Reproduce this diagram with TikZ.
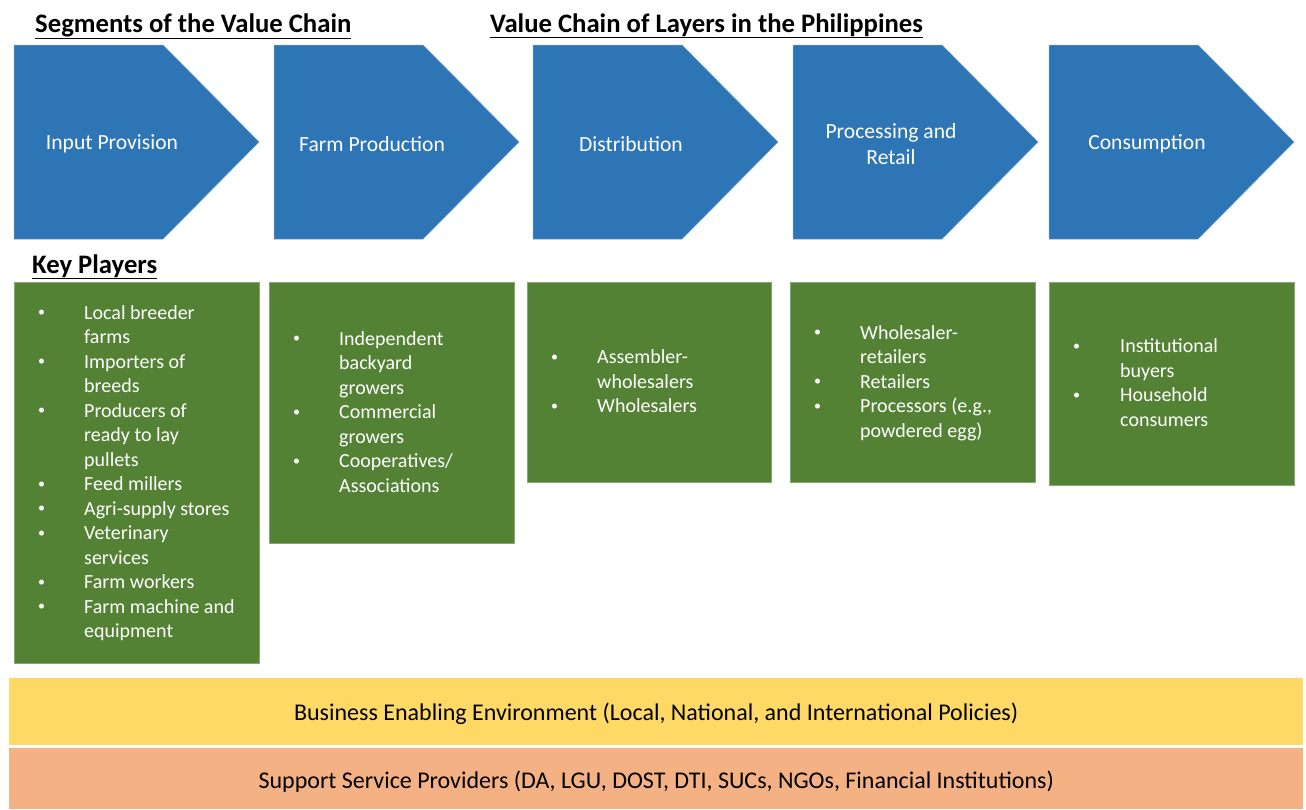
\documentclass[tikz,border=0pt]{standalone}
\usepackage{fontspec}
\setmainfont{Carlito}
\definecolor{chainblue}{HTML}{2E75B6}
\definecolor{playergreen}{HTML}{548235}
\definecolor{envyellow}{HTML}{FFD966}
\definecolor{serviceorange}{HTML}{F4B183}
\newcommand\kpbullet{\raisebox{2.5pt}{\fontsize{14}{14}\selectfont\textbullet}}
\tikzset{
  chev/.style={fill=chainblue, draw=chainblue!70!white, line width=0.5pt},
  chevtext/.style={text=white, align=center, font=\fontsize{21.6}{26}\selectfont},
  playerbox/.style={fill=playergreen, draw=playergreen!70!white, line width=0.5pt,
    anchor=north west, minimum width=245, inner sep=0pt},
  playerlist/.style={text=white, anchor=west, inner sep=0pt, align=left},
  head/.style={font=\fontsize{26.7}{30}\selectfont\bfseries, anchor=base west, inner sep=0pt},
  bar/.style={minimum width=1294, inner sep=0pt, anchor=north west},
  bartext/.style={font=\fontsize{24}{28}\selectfont, inner sep=0pt}
}
\begin{document}
\begin{tikzpicture}[x=1pt, y=-1pt, font=\fontsize{20}{24.5}\selectfont]
\useasboundingbox (0,0) rectangle (1306,809);
%headings
\node[head] (segments) at (35,32) {\underline{Segments of the Value Chain}};
\node[head] (title) at (490,32) {\underline{Value Chain of Layers in the Philippines}};
\node[head] (keyplayers) at (32,273) {\underline{Key Players}};
%chevrons
\foreach \x/\n/\t in {14/ip/Input Provision, 274/fp/Farm Production, 533/di/Distribution,
    793/pr/{Processing and\\Retail}, 1049/co/Consumption}
{
  \draw[chev] (\x,45) -- ++(149,0) -- ++(96,97) -- ++(-96,97) -- ++(-149,0) -- cycle;
  \node[chevtext] (\n) at (\x+98,144) {\t};
}
%key players
\node[playerbox, minimum height=381] (ipbox) at (14,282) {};
\node[playerlist] (iplist) at ([xshift=24,yshift=-1]ipbox.west) {%
\begin{tabular}{@{}p{46pt}@{}l@{}}
\kpbullet & Local breeder\\
 & farms\\
\kpbullet & Importers of\\
 & breeds\\
\kpbullet & Producers of\\
 & ready to lay\\
 & pullets\\
\kpbullet & Feed millers\\
\kpbullet & Agri-supply stores\\
\kpbullet & Veterinary\\
 & services\\
\kpbullet & Farm workers\\
\kpbullet & Farm machine and\\
 & equipment
\end{tabular}};
\node[playerbox, minimum height=261] (fpbox) at (269,282) {};
\node[playerlist] (fplist) at ([xshift=24,yshift=-1]fpbox.west) {%
\begin{tabular}{@{}p{46pt}@{}l@{}}
\kpbullet & Independent\\
 & backyard\\
 & growers\\
\kpbullet & Commercial\\
 & growers\\
\kpbullet & Cooperatives/\\
 & Associations
\end{tabular}};
\node[playerbox, minimum height=200, minimum width=244] (dibox) at (527,282) {};
\node[playerlist] (dilist) at ([xshift=24,yshift=-1]dibox.west) {%
\begin{tabular}{@{}p{46pt}@{}l@{}}
\kpbullet & Assembler-\\
 & wholesalers\\
\kpbullet & Wholesalers
\end{tabular}};
\node[playerbox, minimum height=200] (prbox) at (790,282) {};
\node[playerlist] (prlist) at ([xshift=24,yshift=-1]prbox.west) {%
\begin{tabular}{@{}p{46pt}@{}l@{}}
\kpbullet & Wholesaler-\\
 & retailers\\
\kpbullet & Retailers\\
\kpbullet & Processors (e.g.,\\
 & powdered egg)
\end{tabular}};
\node[playerbox, minimum height=203] (cobox) at (1049,282) {};
\node[playerlist] (colist) at ([xshift=24,yshift=-1]cobox.west) {%
\begin{tabular}{@{}p{47pt}@{}l@{}}
\kpbullet & Institutional\\
 & buyers\\
\kpbullet & Household\\
 & consumers
\end{tabular}};
%bars
\node[bar, fill=envyellow, minimum height=67] (environment) at (9,678) {};
\node[bartext] (envtext) at ([yshift=-2]environment.center)
  {Business Enabling Environment (Local, National, and International Policies)};
\node[bar, fill=serviceorange, minimum height=61] (services) at (9,748) {};
\node[bartext] (servtext) at ([yshift=-3]services.center)
  {Support Service Providers (DA, LGU, DOST, DTI, SUCs, NGOs, Financial Institutions)};
\end{tikzpicture}
\end{document}
